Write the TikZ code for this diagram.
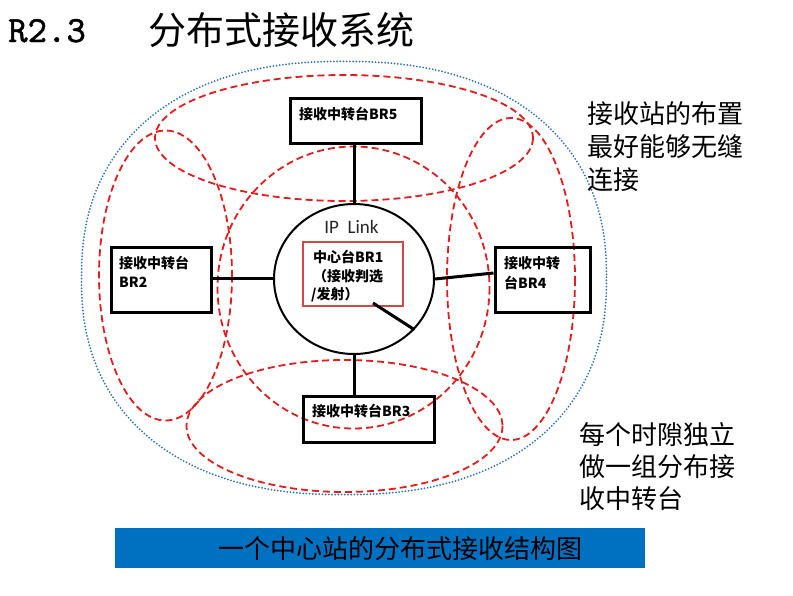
\documentclass[tikz,border=0pt]{standalone}
\usepackage{fontspec}
\setmainfont{Noto Sans CJK SC}
\newfontfamily\cjk{Noto Sans CJK SC}
\newfontfamily\titlemono[FakeBold=1.2]{lmmono10-regular.otf}
\newfontfamily\latf{Carlito}
\usetikzlibrary{shapes.geometric}
\definecolor{myred}{RGB}{228,28,28}
\definecolor{boxred}{RGB}{214,70,70}
\definecolor{myblue}{RGB}{46,117,182}
\definecolor{banner}{RGB}{0,112,192}
\tikzset{
  relay/.style={draw=black, line width=3pt, rectangle, inner sep=0pt},
  lbl/.style={font=\cjk\bfseries\fontsize{14}{19}\selectfont, anchor=base west, inner sep=0pt},
  conn/.style={line width=3pt, black},
  reddash/.style={draw=myred, line width=1.8pt, dash pattern=on 7pt off 4pt},
  bluedot/.style={draw=myblue, line width=2pt, dash pattern=on 0pt off 3.2pt, line cap=round},
  side/.style={font=\cjk\fontsize{26}{33}\selectfont, anchor=base west, inner sep=0pt},
}
\begin{document}
\begin{tikzpicture}[x=1pt,y=-1pt]
\useasboundingbox (0,0) rectangle (793,595);
\fill[white] (0,0) rectangle (793,595);

% title
\node[font=\titlemono\fontsize{37}{40}\selectfont, anchor=base west, inner sep=0pt] (tnum) at (8,42) {R2.3};
\node[font=\cjk\fontsize{38}{40}\selectfont, anchor=base west, inner sep=0pt] (ttxt) at (148,44) {分布式接收系统};

% blue dotted coverage (slightly squarish oval)
\def\ecx{344}\def\ecy{278}\def\ea{262.5}\def\eb{216.6}\def\ee{0.87}
\draw[bluedot]
  plot[domain=0.5:89.5, samples=45, smooth] ({\ecx+\ea*pow(cos(\x),\ee)}, {\ecy-\eb*pow(sin(\x),\ee)})
  -- plot[domain=89.5:0.5, samples=45, smooth] ({\ecx-\ea*pow(cos(\x),\ee)}, {\ecy-\eb*pow(sin(\x),\ee)})
  -- plot[domain=0.5:89.5, samples=45, smooth] ({\ecx-\ea*pow(cos(\x),\ee)}, {\ecy+\eb*pow(sin(\x),\ee)})
  -- plot[domain=89.5:0.5, samples=45, smooth] ({\ecx+\ea*pow(cos(\x),\ee)}, {\ecy+\eb*pow(sin(\x),\ee)})
  -- cycle;

% red dashed cells
\draw[reddash] (344,138) ellipse [x radius=189, y radius=63];
\draw[reddash] (165.5,275.5) ellipse [x radius=66.5, y radius=145];
\draw[reddash] (511,279) ellipse [x radius=64, y radius=161];
\draw[reddash] (344.5,426) ellipse [x radius=158, y radius=66];
\draw[reddash] (353.5,287.5) ellipse [x radius=136, y radius=141];

% relay boxes
\node[relay, minimum width=131pt, minimum height=45pt] (br5) at (356,121) {};
\node[relay, minimum width=100pt, minimum height=65pt] (br2) at (161,279.5) {};
\node[relay, minimum width=95pt, minimum height=65pt] (br4) at (542.5,279.5) {};
\node[relay, minimum width=131pt, minimum height=46pt] (br3) at (368.5,419.5) {};

% IP link circle
\node[draw=black, line width=2pt, ellipse, minimum width=160pt, minimum height=150pt, inner sep=0pt] (ip) at (354,279) {};
\node[font=\latf\fontsize{19}{20}\selectfont, text=black!85, anchor=base, inner sep=0pt] (iplbl) at (351.5,233) {IP\ \ Link};

% central station box
\node[draw=boxred, line width=1.1pt, rectangle, minimum width=100pt, minimum height=64pt, inner sep=0pt] (br1) at (353,274) {};
\node[lbl] (br1a) at (313,262) {中心台BR1};
\node[lbl] (br1b) at (313,281) {（接收判选};
\node[lbl] (br1c) at (311,299) {/发射）};
\coordinate (dstart) at (373,303);

% connectors
\draw[conn] (ip.north) -- (ip.north |- br5.south);
\draw[conn] (br2.east |- 0,278) -- (ip.west |- 0,278);
\draw[conn] (ip.east) -- (br4.west |- 0,273);
\draw[conn] (ip.south) -- (ip.south |- br3.north);
\draw[conn] (dstart) -- (ip.-40);

% relay labels
\node[lbl] (l5) at (299,119) {接收中转台BR5};
\node[lbl] (l2a) at (119,268) {接收中转台};
\node[lbl] (l2b) at (119,287) {BR2};
\node[lbl] (l4a) at (504,268) {接收中转};
\node[lbl] (l4b) at (504,288) {台BR4};
\node[lbl] (l3) at (312,416) {接收中转台BR3};

% side notes
\node[side] (n1) at (587,123) {接收站的布置};
\node[side] (n2) at (587,156) {最好能够无缝};
\node[side] (n3) at (587,189) {连接};
\node[side] (m1) at (579,444) {每个时隙独立};
\node[side] (m2) at (579,476) {做一组分布接};
\node[side] (m3) at (579,508) {收中转台};

% banner
\node[fill=banner, rectangle, minimum width=530pt, minimum height=40pt, inner sep=0pt] (bar) at (380,548) {};
\node[font=\cjk\fontsize{26}{28}\selectfont, inner sep=0pt] (bartxt) at (400,549) {一个中心站的分布式接收结构图};
\end{tikzpicture}
\end{document}
